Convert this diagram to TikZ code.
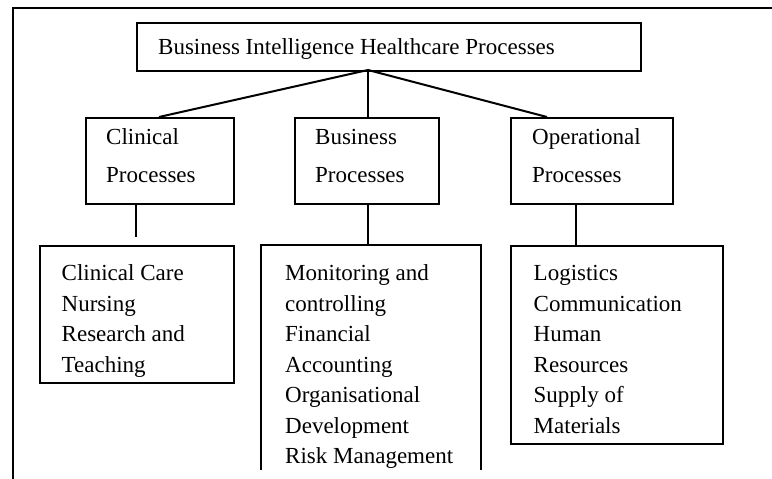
\documentclass[tikz,border=0pt]{standalone}
\usepackage{fontspec}
\setmainfont{Liberation Serif}
\begin{document}
\begin{tikzpicture}[x=1pt,y=-1pt,
  box/.style={draw=black,line width=2pt,inner sep=0pt,anchor=north west},
  openbox/.style={draw=none,inner sep=0pt,anchor=north west},
  link/.style={draw=black,line width=2pt},
  frameline/.style={draw=black,line width=2.5pt},
  lbl/.style={inner sep=0pt,anchor=base west,font=\fontsize{23}{30}\selectfont}]
\useasboundingbox (0,0) rectangle (772,479);
% outer frame (left and top sides only)
\coordinate (fbl) at (13,479);
\coordinate (ftl) at (13,8);
\coordinate (ftr) at (772,8);
\draw[frameline] (fbl) -- (ftl) -- (ftr);
% top box
\node[box,minimum width=504.5pt,minimum height=48pt] (top) at (135.5,22) {};
\node[lbl] (toptext) at (158,54) {Business Intelligence Healthcare Processes};
% second level boxes
\node[box,minimum width=147.5pt,minimum height=86pt] (cp) at (85,117) {};
\node[box,minimum width=144pt,minimum height=86pt] (bp) at (294,117) {};
\node[box,minimum width=162pt,minimum height=86pt] (op) at (510,117) {};
\node[lbl] (cp1) at (106,144) {Clinical};
\node[lbl] (cp2) at (106,182) {Processes};
\node[lbl] (bp1) at (315,144) {Business};
\node[lbl] (bp2) at (315,182) {Processes};
\node[lbl] (op1) at (532,144) {Operational};
\node[lbl] (op2) at (532,182) {Processes};
% third level boxes
\node[box,minimum width=193.5pt,minimum height=137pt] (cl) at (39,245) {};
\node[openbox,minimum width=220pt,minimum height=225pt] (bl) at (261,245) {};
\draw[link] (bl.south west) -- (bl.north west) -- (bl.north east) -- (bl.south east);
\node[box,minimum width=212pt,minimum height=198pt] (ol) at (510,245) {};
% list texts
\node[lbl] (cl1) at (61.5,280) {Clinical Care};
\node[lbl] (cl2) at (61.5,311) {Nursing};
\node[lbl] (cl3) at (61.5,341) {Research and};
\node[lbl] (cl4) at (61.5,372) {Teaching};
\node[lbl] (bl1) at (285,280) {Monitoring and};
\node[lbl] (bl2) at (285,311) {controlling};
\node[lbl] (bl3) at (285,341) {Financial};
\node[lbl] (bl4) at (285,372) {Accounting};
\node[lbl] (bl5) at (285,402) {Organisational};
\node[lbl] (bl6) at (285,433) {Development};
\node[lbl] (bl7) at (285,463) {Risk Management};
\node[lbl] (ol1) at (533.5,280) {Logistics};
\node[lbl] (ol2) at (533.5,311) {Communication};
\node[lbl] (ol3) at (533.5,341) {Human};
\node[lbl] (ol4) at (533.5,372) {Resources};
\node[lbl] (ol5) at (533.5,402) {Supply of};
\node[lbl] (ol6) at (533.5,433) {Materials};
% connectors fanning out from one point under the top box
\coordinate (fan) at (368,70);
\coordinate (cpin) at (159,117);
\coordinate (bpin) at (368,117);
\coordinate (opin) at (547,117);
\draw[link] (fan) -- (cpin);
\draw[link] (fan) -- (bpin);
\draw[link] (fan) -- (opin);
\coordinate (cpout) at (136,203);
\coordinate (cpend) at (136,237);
\draw[link] (cpout) -- (cpend);
\coordinate (bpout) at (368,203);
\draw[link] (bpout) -- (bpout |- bl.north);
\coordinate (opout) at (576,203);
\draw[link] (opout) -- (opout |- ol.north);
\end{tikzpicture}
\end{document}
